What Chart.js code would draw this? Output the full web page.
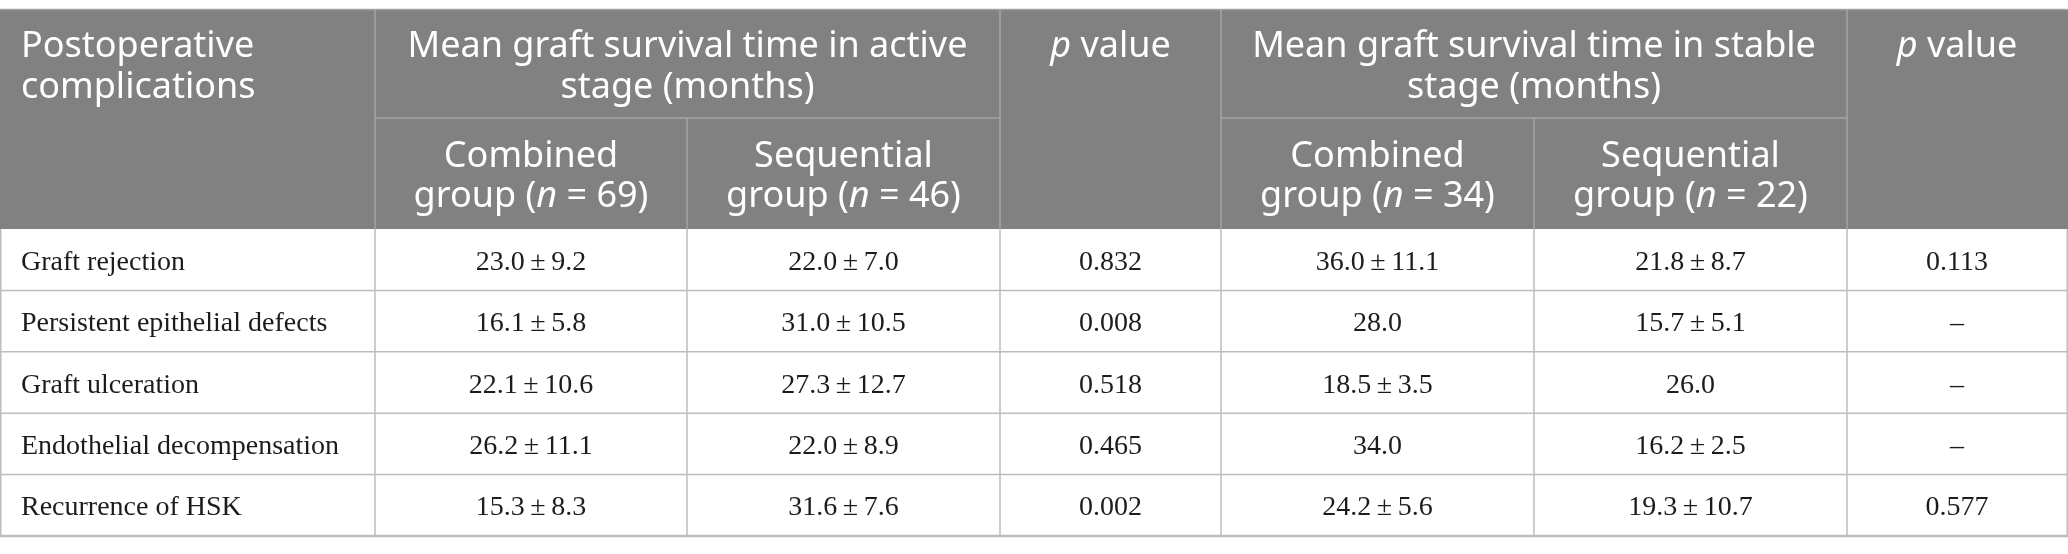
<!DOCTYPE html>
<html>
<head>
<meta charset="utf-8">
<script src="https://cdn.jsdelivr.net/npm/chart.js@4.4.1/dist/chart.umd.min.js"></script>
<style>
    html, body { margin: 0; padding: 0; background: #fff; }
    #wrap { width: 2068px; height: 554px; position: relative; }
</style>
</head>
<body>
<div id="wrap"><canvas id="myChart"></canvas></div>
<script>
// row labels
const complications = ["Graft rejection", "Persistent epithelial defects", "Graft ulceration", "Endothelial decompensation", "Recurrence of HSK"];

// active stage (months)
const activeCombinedMean = [23.0, 16.1, 22.1, 26.2, 15.3];
const activeCombinedSd = [9.2, 5.8, 10.6, 11.1, 8.3];
const activeSequentialMean = [22.0, 31.0, 27.3, 22.0, 31.6];
const activeSequentialSd = [7.0, 10.5, 12.7, 8.9, 7.6];
const activeP = [0.832, 0.008, 0.518, 0.465, 0.002];

// stable stage (months), null = not given
const stableCombinedMean = [36.0, 28.0, 18.5, 34.0, 24.2];
const stableCombinedSd = [11.1, null, 3.5, null, 5.6];
const stableSequentialMean = [21.8, 15.7, 26.0, 16.2, 19.3];
const stableSequentialSd = [8.7, 5.1, null, 2.5, 10.7];
const stableP = [0.113, null, null, null, 0.577];

// group sizes
const activeN = [69, 46];
const stableN = [34, 22];

// 표 레이아웃
const colWidths = [375, 312, 313, 221, 313, 313, 220];
const tableTop = 9;
const headRow1 = 109;
const headRow2 = 111;
const bodyRow = 61.4;

const headFont = "'Noto Sans', 'Open Sans', sans-serif";
const bodyFont = "'Liberation Serif', 'DejaVu Serif', serif";
const headSize = 36;
const bodySize = 28;

function fmt(mean, sd) {
    let s = mean.toFixed(1);
    if (sd != null) s += "\u2009±\u2009" + sd.toFixed(1);
    return s;
}
function fmtP(p) {
    return p == null ? "\u2013" : p.toFixed(3);
}

// 본문 셀 만들기
let bodyCells = [];
for (let i = 0; i < complications.length; i++) {
    bodyCells.push([
        complications[i],
        fmt(activeCombinedMean[i], activeCombinedSd[i]),
        fmt(activeSequentialMean[i], activeSequentialSd[i]),
        fmtP(activeP[i]),
        fmt(stableCombinedMean[i], stableCombinedSd[i]),
        fmt(stableSequentialMean[i], stableSequentialSd[i]),
        fmtP(stableP[i])
    ]);
}

// header parts: [text, italic]
const pValue = [["p", true], [" value"]];
function groupLabel(name, n) {
    return [[[name]], [["group ("], ["n", true], [" = " + n + ")"]]];
}
const headerTop = [
    { col: 0, span: 1, lines: [[["Postoperative"]], [["complications"]]], align: "left" },
    { col: 1, span: 2, lines: [[["Mean graft survival time in active"]], [["stage (months)"]]] },
    { col: 3, span: 1, lines: [pValue] },
    { col: 4, span: 2, lines: [[["Mean graft survival time in stable"]], [["stage (months)"]]] },
    { col: 6, span: 1, lines: [pValue] }
];
const headerSub = [
    { col: 1, lines: groupLabel("Combined", activeN[0]) },
    { col: 2, lines: groupLabel("Sequential", activeN[1]) },
    { col: 4, lines: groupLabel("Combined", stableN[0]) },
    { col: 5, lines: groupLabel("Sequential", stableN[1]) }
];

function drawRich(ctx, parts, x, y, align, size) {
    let total = 0;
    let widths = [];
    for (let p of parts) {
        ctx.font = (p[1] ? "italic " : "") + size + "px " + headFont;
        let w = ctx.measureText(p[0]).width;
        widths.push(w);
        total += w;
    }
    let cx = align === "left" ? x : x - total / 2;
    ctx.textAlign = "left";
    for (let i = 0; i < parts.length; i++) {
        ctx.font = (parts[i][1] ? "italic " : "") + size + "px " + headFont;
        ctx.fillText(parts[i][0], cx, y);
        cx += widths[i];
    }
}

const tablePlugin = {
    id: "tablePlugin",
    afterDraw(chart) {
        const ctx = chart.ctx;
        const W = chart.width;
        const sum = colWidths.reduce((a, b) => a + b, 0);
        let xs = [0];
        for (let w of colWidths) xs.push(xs[xs.length - 1] + w * (W - 1) / sum);

        const y1 = tableTop + headRow1;
        const y2 = y1 + headRow2;
        let ys = [y2];
        for (let i = 0; i < bodyCells.length; i++) ys.push(ys[i] + bodyRow);
        const yEnd = ys[ys.length - 1];

        ctx.save();
        // 헤더 배경
        ctx.fillStyle = "#808180";
        ctx.fillRect(0, tableTop, W, y2 - tableTop);

        // 헤더 선
        ctx.strokeStyle = "#a3a4a3";
        ctx.lineWidth = 1.5;
        ctx.beginPath();
        ctx.moveTo(0, tableTop + 0.5); ctx.lineTo(W, tableTop + 0.5);
        for (let c of [1, 3, 4, 6]) { ctx.moveTo(xs[c], tableTop); ctx.lineTo(xs[c], y2); }
        for (let c of [2, 5]) { ctx.moveTo(xs[c], y1); ctx.lineTo(xs[c], y2); }
        ctx.moveTo(xs[1], y1); ctx.lineTo(xs[3], y1);
        ctx.moveTo(xs[4], y1); ctx.lineTo(xs[6], y1);
        ctx.stroke();

        // 본문 선
        ctx.strokeStyle = "#bdbdbd";
        ctx.lineWidth = 1.5;
        ctx.beginPath();
        for (let i = 1; i < ys.length; i++) { ctx.moveTo(0, ys[i]); ctx.lineTo(W, ys[i]); }
        for (let c = 0; c < xs.length; c++) {
            let x = c === 0 ? 0.75 : (c === xs.length - 1 ? W - 0.75 : xs[c]);
            ctx.moveTo(x, y2); ctx.lineTo(x, yEnd);
        }
        ctx.stroke();
        ctx.lineWidth = 2.5;
        ctx.beginPath();
        ctx.moveTo(0, yEnd); ctx.lineTo(W, yEnd);
        ctx.stroke();

        // 헤더 글자
        ctx.fillStyle = "#ffffff";
        ctx.textBaseline = "alphabetic";
        for (let h of headerTop) {
            let left = xs[h.col], right = xs[h.col + h.span];
            let x = h.align === "left" ? left + 21 : (left + right) / 2;
            h.lines.forEach((line, k) => drawRich(ctx, line, x, tableTop + 48 + k * 41, h.align, headSize));
        }
        for (let h of headerSub) {
            let x = (xs[h.col] + xs[h.col + 1]) / 2;
            h.lines.forEach((line, k) => drawRich(ctx, line, x, y1 + 49 + k * 40, "center", headSize));
        }

        // 본문 글자
        ctx.fillStyle = "#1c1c1c";
        ctx.font = bodySize + "px " + bodyFont;
        for (let r = 0; r < bodyCells.length; r++) {
            let base = (ys[r] + ys[r + 1]) / 2 + 10;
            for (let c = 0; c < bodyCells[r].length; c++) {
                if (c === 0) {
                    ctx.textAlign = "left";
                    ctx.fillText(bodyCells[r][c], xs[0] + 21, base);
                } else {
                    ctx.textAlign = "center";
                    ctx.fillText(bodyCells[r][c], (xs[c] + xs[c + 1]) / 2, base);
                }
            }
        }
        ctx.restore();
    }
};

let config = {
    type: "bar",
    data: {
        labels: complications,
        datasets: []
    },
    options: {
        responsive: true,
        maintainAspectRatio: false,
        animation: false,
        devicePixelRatio: 1,
        events: [],
        layout: { padding: 0 },
        plugins: { legend: { display: false }, tooltip: { enabled: false } },
        scales: { x: { display: false }, y: { display: false } }
    },
    plugins: [tablePlugin]
};

let ctx = document.getElementById("myChart");
new Chart(ctx, config);
</script>
</body>
</html>
